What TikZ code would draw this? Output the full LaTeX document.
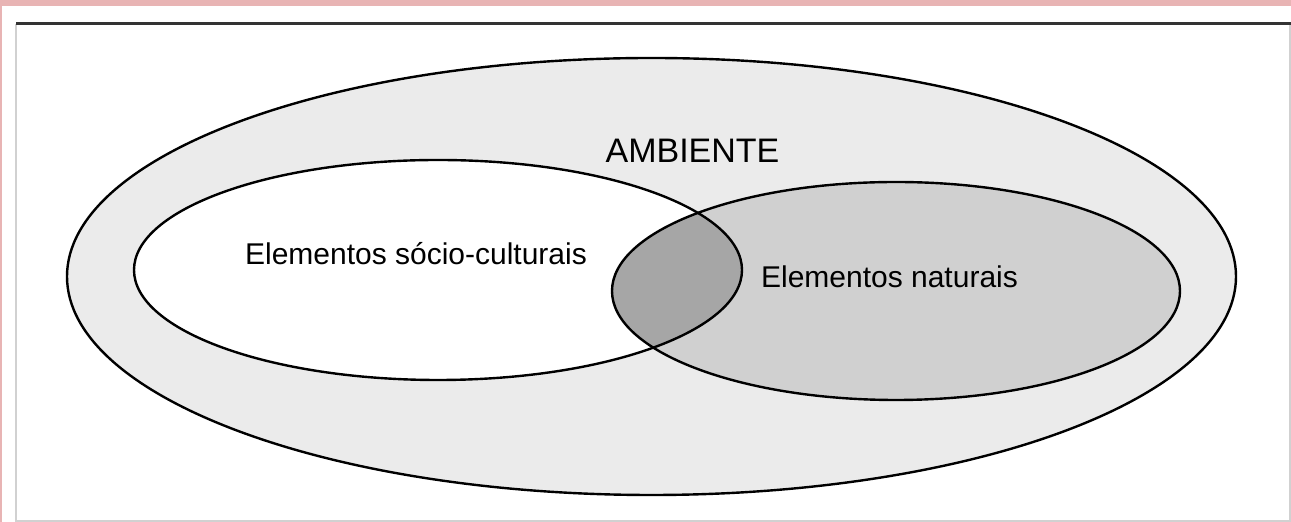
\documentclass[tikz,border=0pt]{standalone}
\usepackage{fontspec}
\setmainfont{Liberation Sans}
\definecolor{framepink}{RGB}{232,180,180}
\definecolor{outergrey}{RGB}{235,235,235}
\definecolor{natgrey}{RGB}{208,208,208}
\definecolor{overlapgrey}{RGB}{166,166,166}

\tikzset{
  setline/.style={line width=1.2pt, black},
  setlabel/.style={anchor=base, inner sep=0pt, font=\fontsize{15}{18}\selectfont},
}

\begin{document}
\begin{tikzpicture}[x=0.5pt, y=-0.5pt]
    \useasboundingbox (0,0) rectangle (1291,522);

    % page frame round the figure
    \fill[framepink] (0,0) rectangle (1291,522);
    \fill[white] (2,6) rectangle (1291,522);
    \draw[line width=0.75pt, black!18] (16,24) -- (16,521) -- (1290,521) -- (1290,24);
    \draw[line width=1.5pt, black!80] (16,24) -- (1291,24);

    % outer set: the environment
    \draw[setline, fill=outergrey] (651.5,276.5) ellipse [x radius=584.5, y radius=218.5];

    % the two inner sets
    \fill[natgrey] (896,291) ellipse [x radius=284, y radius=109];
    \fill[white] (438,270) ellipse [x radius=304, y radius=110];

    % overlap of the two
    \begin{scope}
        \clip (438,270) ellipse [x radius=304, y radius=110];
        \fill[overlapgrey] (896,291) ellipse [x radius=284, y radius=109];
    \end{scope}

    \draw[setline] (438,270) ellipse [x radius=304, y radius=110];
    \draw[setline] (896,291) ellipse [x radius=284, y radius=109];

    % labels
    \node[inner sep=0pt, font=\fontsize{17}{20}\selectfont] (ambiente) at (692.5,150.5) {AMBIENTE};
    \node[setlabel] (socio) at (416,265) {Elementos sócio-culturais};
    \node[setlabel] (natural) at (889.5,288) {Elementos naturais};
\end{tikzpicture}
\end{document}
